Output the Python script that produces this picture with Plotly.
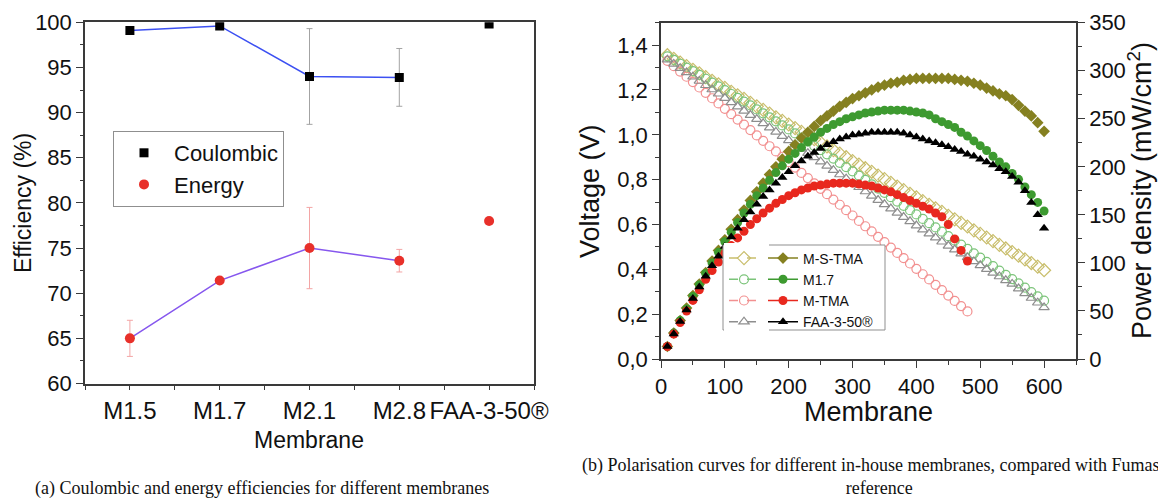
import plotly.graph_objects as go

W, H = 1158, 499


def px(x):
    return x / W


def py(y):
    return 1 - y / H


# ---------------- Panel (a) data ----------------
categories = ["M1.5", "M1.7", "M2.1", "M2.8", "FAA-3-50®"]
coulombic = [99.1, 99.6, 94.0, 93.9, 99.8]
coulombic_err = [0.3, 0.3, 5.3, 3.2, 0.3]
energy = [65.0, 71.4, 75.0, 73.6, 78.0]
energy_err = [2.0, 0.3, 4.5, 1.25, 0.0]

# ---------------- Panel (b) data ----------------
current = [10, 20, 30, 40, 50, 60, 70, 80, 90, 100,
           110, 120, 130, 140, 150, 160, 170, 180, 190, 200,
           210, 220, 230, 240, 250, 260, 270, 280, 290, 300,
           310, 320, 330, 340, 350, 360, 370, 380, 390, 400,
           410, 420, 430, 440, 450, 460, 470, 480, 490, 500,
           510, 520, 530, 540, 550, 560, 570, 580, 590, 600]
current_mtma = current[:48]

v_mstma = [1.355, 1.339, 1.322, 1.306, 1.290, 1.274, 1.257, 1.241, 1.225, 1.209,
           1.192, 1.176, 1.160, 1.143, 1.127, 1.111, 1.095, 1.078, 1.062, 1.046,
           1.030, 1.013, 0.997, 0.981, 0.965, 0.948, 0.932, 0.916, 0.900, 0.883,
           0.867, 0.851, 0.835, 0.818, 0.802, 0.786, 0.769, 0.753, 0.737, 0.721,
           0.704, 0.688, 0.672, 0.656, 0.639, 0.623, 0.607, 0.591, 0.574, 0.558,
           0.542, 0.526, 0.509, 0.493, 0.477, 0.461, 0.444, 0.428, 0.412, 0.396]
p_mstma = [13, 27, 40, 53, 66, 78, 90, 102, 113, 124,
           135, 145, 155, 165, 174, 183, 192, 200, 208, 216,
           223, 230, 236, 242, 248, 253, 258, 263, 267, 271,
           274, 277, 280, 283, 285, 287, 288, 290, 291, 292,
           292, 292, 292, 292, 292, 291, 290, 289, 287, 285,
           282, 279, 276, 274, 270, 264, 258, 253, 246, 237]

v_m17 = [1.350, 1.334, 1.317, 1.300, 1.284, 1.267, 1.250, 1.233, 1.216, 1.199,
         1.182, 1.165, 1.148, 1.131, 1.113, 1.096, 1.078, 1.060, 1.042, 1.024,
         1.006, 0.988, 0.970, 0.951, 0.932, 0.913, 0.894, 0.875, 0.856, 0.837,
         0.818, 0.799, 0.779, 0.760, 0.741, 0.722, 0.702, 0.683, 0.664, 0.645,
         0.625, 0.606, 0.587, 0.568, 0.548, 0.529, 0.510, 0.491, 0.471, 0.452,
         0.433, 0.414, 0.394, 0.375, 0.356, 0.337, 0.318, 0.298, 0.279, 0.260]
p_m17 = [13, 27, 40, 52, 65, 77, 89, 100, 111, 122,
         132, 142, 152, 161, 170, 178, 186, 194, 201, 208,
         214, 220, 226, 231, 236, 240, 244, 247, 250, 252,
         254, 256, 257, 258, 259, 259, 259, 259, 258, 257,
         256, 254, 250, 247, 244, 241, 236, 232, 227, 222,
         217, 211, 205, 200, 193, 187, 179, 171, 163, 154]

v_mtma = [1.330, 1.306, 1.282, 1.259, 1.235, 1.211, 1.187, 1.163, 1.140, 1.116,
          1.092, 1.068, 1.045, 1.021, 0.997, 0.973, 0.949, 0.926, 0.902, 0.878,
          0.854, 0.830, 0.807, 0.783, 0.759, 0.735, 0.711, 0.688, 0.664, 0.640,
          0.616, 0.592, 0.569, 0.545, 0.521, 0.497, 0.473, 0.450, 0.426, 0.402,
          0.378, 0.355, 0.331, 0.307, 0.283, 0.259, 0.236, 0.212]
p_mtma = [13, 26, 38, 50, 61, 72, 83, 92, 101, 110,
          118, 126, 133, 140, 146, 152, 157, 162, 166, 170,
          173, 176, 178, 180, 181, 182, 183, 183, 183, 183,
          182, 181, 180, 178, 176, 174, 171, 168, 165, 162,
          159, 156, 152, 148, 140, 125, 113, 102]

v_faa = [1.335, 1.316, 1.297, 1.278, 1.259, 1.240, 1.221, 1.202, 1.183, 1.164,
         1.145, 1.126, 1.107, 1.088, 1.070, 1.051, 1.032, 1.013, 0.994, 0.975,
         0.956, 0.937, 0.918, 0.899, 0.880, 0.861, 0.842, 0.823, 0.804, 0.785,
         0.766, 0.747, 0.728, 0.709, 0.690, 0.671, 0.652, 0.633, 0.614, 0.595,
         0.577, 0.559, 0.541, 0.523, 0.505, 0.488, 0.470, 0.453, 0.435, 0.418,
         0.401, 0.384, 0.368, 0.351, 0.335, 0.314, 0.293, 0.272, 0.251, 0.230]
p_faa = [13, 26, 39, 51, 63, 75, 86, 97, 107, 117,
         127, 136, 145, 153, 161, 169, 176, 183, 189, 195,
         201, 206, 211, 215, 219, 223, 226, 229, 231, 233,
         234, 235, 236, 236, 236, 236, 236, 235, 233, 231,
         229, 227, 225, 223, 221, 218, 216, 213, 211, 208,
         205, 202, 198, 195, 190, 184, 175, 163, 150, 136]

series_names = ["M-S-TMA", "M1.7", "M-TMA", "FAA-3-50®"]

# ---------------- styles ----------------
SANS = "Liberation Sans, Arial, Helvetica, sans-serif"
SERIF = "Liberation Serif, Times New Roman, serif"
AX = "#3a3a3a"

styles = [
    dict(open_sym="diamond-open", fill_sym="diamond", open_col="#c9be6c", fill_col="#858020", osize=10, fsize=9),
    dict(open_sym="circle-open", fill_sym="circle", open_col="#7cc47a", fill_col="#3d9a30", osize=9, fsize=9),
    dict(open_sym="circle-open", fill_sym="circle", open_col="#f29090", fill_col="#e8281e", osize=9, fsize=9),
    dict(open_sym="triangle-up-open", fill_sym="triangle-up", open_col="#8e8e8e", fill_col="#000000", osize=9, fsize=9),
]
volt = [v_mstma, v_m17, v_mtma, v_faa]
power = [p_mstma, p_m17, p_mtma, p_faa]
xs = [current, current, current_mtma, current]

fig = go.Figure()

# ---------------- Panel (a) ----------------
cat_pos = list(range(len(categories)))
fig.add_trace(go.Scatter(x=cat_pos[:4], y=coulombic[:4], mode="lines",
                         line=dict(color="#3c50f2", width=1.5), showlegend=False,
                         xaxis="x", yaxis="y", hoverinfo="skip"))
fig.add_trace(go.Scatter(x=cat_pos[:4], y=energy[:4], mode="lines",
                         line=dict(color="#8657ee", width=1.5), showlegend=False,
                         xaxis="x", yaxis="y", hoverinfo="skip"))
fig.add_trace(go.Scatter(x=cat_pos, y=coulombic, mode="markers", name="Coulombic",
                         marker=dict(symbol="square", size=9, color="black"),
                         error_y=dict(type="data", array=coulombic_err, color="#a3a3a3",
                                      thickness=1, width=3),
                         xaxis="x", yaxis="y", legend="legend"))
fig.add_trace(go.Scatter(x=cat_pos, y=energy, mode="markers", name="Energy",
                         marker=dict(symbol="circle", size=10, color="#e8302a"),
                         error_y=dict(type="data", array=energy_err, color="#f3a5a5",
                                      thickness=1, width=3),
                         xaxis="x", yaxis="y", legend="legend"))

# ---------------- Panel (b) ----------------
for i in range(4):
    s = styles[i]
    fig.add_trace(go.Scatter(x=xs[i], y=volt[i], mode="markers", showlegend=False,
                             marker=dict(symbol=s["open_sym"], size=s["osize"],
                                         color=s["open_col"], line=dict(width=1.2, color=s["open_col"])),
                             xaxis="x2", yaxis="y2"))
for i in range(4):
    s = styles[i]
    fig.add_trace(go.Scatter(x=xs[i], y=power[i], mode="markers", showlegend=False,
                             marker=dict(symbol=s["fill_sym"], size=s["fsize"],
                                         color=s["fill_col"], line=dict(width=0)),
                             xaxis="x2", yaxis="y3"))

# legend samples (no data, legend only)
for i in range(4):
    s = styles[i]
    fig.add_trace(go.Scatter(x=[None], y=[None], mode="lines+markers", name="",
                             marker=dict(symbol=s["open_sym"], size=s["osize"], color=s["open_col"],
                                         line=dict(width=1.2, color=s["open_col"])),
                             line=dict(color=s["open_col"], width=1.5, dash="dash"),
                             xaxis="x2", yaxis="y2", legend="legend2"))
for i in range(4):
    s = styles[i]
    fig.add_trace(go.Scatter(x=[None], y=[None], mode="lines+markers", name=series_names[i],
                             marker=dict(symbol=s["fill_sym"], size=s["fsize"], color=s["fill_col"]),
                             line=dict(color=s["fill_col"], width=1.5),
                             xaxis="x2", yaxis="y3", legend="legend3"))

axis_common = dict(showline=True, linecolor=AX, linewidth=1.5, ticks="outside",
                   tickcolor=AX, tickwidth=1.2, showgrid=False, zeroline=False,
                   automargin=False,
                   tickfont=dict(family=SANS, size=22, color="#111"))

fig.update_layout(
    width=W, height=H,
    margin=dict(l=0, r=0, t=0, b=0, pad=0, autoexpand=False),
    paper_bgcolor="white", plot_bgcolor="white",
    separators=", ",
    font=dict(family=SANS, color="#111"),
    xaxis=dict(**{**axis_common, "tickfont": dict(family=SANS, size=24, color="#111")},
               domain=[px(85), px(534)], anchor="y", range=[-0.5, 4.5], tickangle=0,
               tickmode="array", tickvals=cat_pos, ticktext=categories, ticklen=5,
               minor=dict(tickmode="linear", tick0=0.5, dtick=1, ticks="outside", ticklen=5,
                          tickcolor=AX),
               mirror=True),
    yaxis=dict(**axis_common, domain=[py(383.5), py(22.3)], anchor="x", range=[60, 100],
               dtick=5, ticklen=7,
               minor=dict(dtick=2.5, ticks="outside", ticklen=3, tickcolor=AX),
               mirror=True),
    xaxis2=dict(**axis_common, domain=[px(661), px(1076)], anchor="y2", range=[0, 650],
                dtick=100, ticklen=7, tickangle=0,
                minor=dict(dtick=50, ticks="outside", ticklen=4, tickcolor=AX),
                mirror=True),
    yaxis2=dict(**axis_common, domain=[py(359), py(22.7)], anchor="x2", range=[0, 1.5],
                dtick=0.2, tickformat=".1f", ticklen=7,
                minor=dict(dtick=0.1, ticks="outside", ticklen=4, tickcolor=AX)),
    yaxis3=dict(**axis_common, overlaying="y2", side="right", anchor="x2", range=[0, 350],
                dtick=50, ticklen=7,
                minor=dict(dtick=25, ticks="outside", ticklen=4, tickcolor=AX)),
    legend=dict(x=px(113), y=py(131), xanchor="left", yanchor="top",
                bgcolor="white", bordercolor="#8f8f8f", borderwidth=1,
                font=dict(family=SANS, size=22, color="#111"), itemwidth=50),
    legend2=dict(x=px(724), y=py(242.5), xanchor="left", yanchor="top",
                 bgcolor="white", borderwidth=0, font=dict(family=SANS, size=14),
                 itemwidth=30, tracegroupgap=0),
    legend3=dict(x=px(763), y=py(242.5), xanchor="left", yanchor="top",
                 bgcolor="rgba(0,0,0,0)", borderwidth=0,
                 font=dict(family=SANS, size=14, color="#111"),
                 itemwidth=30, tracegroupgap=0),
    shapes=[dict(type="rect", xref="paper", yref="paper",
                 x0=px(723), x1=px(885), y0=py(330), y1=py(245),
                 line=dict(color="#8f8f8f", width=1), fillcolor="white", layer="above")],
    annotations=[
        dict(text="Efficiency (%)", x=px(23), y=py(203), xref="paper", yref="paper",
             textangle=-90, showarrow=False, font=dict(family=SANS, size=23, color="#111"),
             xanchor="center", yanchor="middle"),
        dict(text="Membrane", x=px(309), y=py(440), xref="paper", yref="paper",
             showarrow=False, font=dict(family=SANS, size=23, color="#111"),
             xanchor="center", yanchor="middle"),
        dict(text="Voltage (V)", x=px(590), y=py(191), xref="paper", yref="paper",
             textangle=-90, showarrow=False, font=dict(family=SANS, size=27, color="#111"),
             xanchor="center", yanchor="middle"),
        dict(text="Power density (mW/cm<sup>2</sup>)", x=px(1140), y=py(191), xref="paper", yref="paper",
             textangle=-90, showarrow=False, font=dict(family=SANS, size=27, color="#111"),
             xanchor="center", yanchor="middle", borderpad=0),
        dict(text="Membrane", x=px(868), y=py(412), xref="paper", yref="paper",
             showarrow=False, font=dict(family=SANS, size=27, color="#111"),
             xanchor="center", yanchor="middle", borderpad=0),
        dict(text="(a) Coulombic and energy efficiencies for different membranes",
             x=px(34), y=py(488), xref="paper", yref="paper", showarrow=False,
             font=dict(family=SERIF, size=18, color="#111"), xanchor="left", yanchor="middle",
             borderpad=0),
        dict(text="(b) Polarisation curves for different in-house membranes, compared with Fumasep<br>reference",
             x=px(879), y=py(476), xref="paper", yref="paper", showarrow=False,
             font=dict(family=SERIF, size=18, color="#111"), xanchor="center", yanchor="middle",
             align="center", borderpad=0),
    ],
)

fig.write_html("out.html", config={"displayModeBar": False},
               post_script="document.body.style.margin='0px';document.body.style.overflow='hidden';")
